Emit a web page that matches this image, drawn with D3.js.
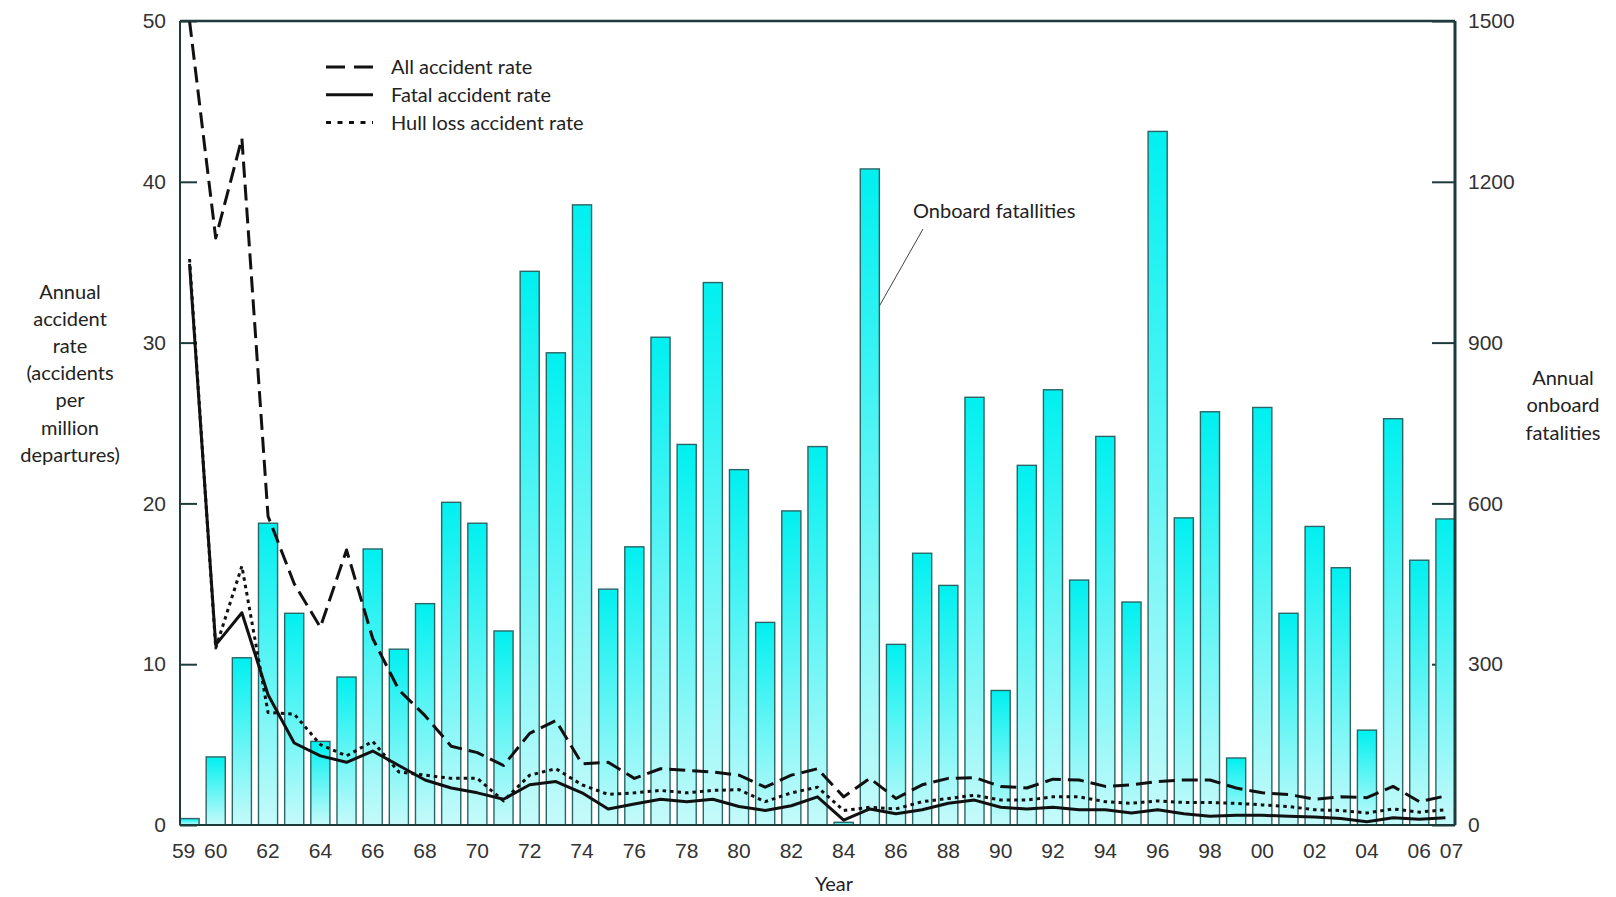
<!DOCTYPE html>
<html>
<head>
<meta charset="utf-8">
<script src="https://cdn.jsdelivr.net/npm/d3@7"></script>
<style>
  body { margin: 0; background: #fff; }
  .tick text { font-family: "Liberation Sans", Arial, sans-serif; font-size: 21px; fill: #333; }
  .lbl { font-family: Lato, "Open Sans", sans-serif; font-size: 20px; fill: #222; }
</style>
</head>
<body>
<div id="chart-area"></div>
<script>

// Data
var years = d3.range(1959, 2008);

var fatalities = [12, 127, 312, 563, 395, 156, 276, 515, 328, 413, 602, 563, 362, 1033, 881, 1157,
    440, 519, 910, 710, 1012, 663, 378, 586, 706, 5, 1224, 337, 507, 447, 798, 251, 671, 812,
    457, 725, 416, 1294, 573, 771, 125, 779, 395, 557, 480, 177, 758, 494, 571];

var allRate = [50, 36.5, 42.7, 19.2, 15.0, 12.3, 17.1, 11.6, 8.4, 6.8, 4.9, 4.5, 3.7, 5.7, 6.5, 3.8,
    3.9, 2.9, 3.5, 3.4, 3.3, 3.1, 2.35, 3.1, 3.5, 1.75, 2.9, 1.65, 2.5, 2.9, 2.95, 2.4, 2.3, 2.85,
    2.8, 2.4, 2.5, 2.7, 2.8, 2.8, 2.3, 2.0, 1.9, 1.6, 1.75, 1.7, 2.4, 1.45, 1.8];

var fatalRate = [34.9, 11.2, 13.2, 8.1, 5.1, 4.3, 3.9, 4.6, 3.7, 2.8, 2.3, 2.0, 1.6, 2.5, 2.7, 2.0,
    1.0, 1.3, 1.6, 1.45, 1.6, 1.15, 0.9, 1.2, 1.75, 0.3, 1.0, 0.7, 0.95, 1.35, 1.55, 1.1, 1.0, 1.1,
    0.95, 0.95, 0.75, 0.95, 0.7, 0.55, 0.6, 0.6, 0.55, 0.5, 0.4, 0.2, 0.45, 0.35, 0.45];

var hullRate = [35.2, 11.0, 16.1, 7.0, 6.9, 5.0, 4.3, 5.2, 3.3, 3.1, 2.9, 2.9, 1.5, 3.1, 3.5, 2.5,
    1.9, 2.0, 2.15, 2.0, 2.15, 2.2, 1.45, 2.0, 2.35, 0.9, 1.1, 1.0, 1.45, 1.65, 1.85, 1.55, 1.55, 1.75,
    1.75, 1.45, 1.35, 1.5, 1.4, 1.4, 1.35, 1.25, 1.15, 0.95, 0.9, 0.75, 1.0, 0.8, 0.95];

var yearTicks = [1959, 1960, 1962, 1964, 1966, 1968, 1970, 1972, 1974, 1976, 1978, 1980, 1982,
    1984, 1986, 1988, 1990, 1992, 1994, 1996, 1998, 2000, 2002, 2004, 2006, 2007];
var rateTicks = [0, 10, 20, 30, 40, 50];
var fatalTicks = [0, 300, 600, 900, 1200, 1500];

var series = [
    {name: "All accident rate", values: allRate, dash: "16,7", legendDash: "19,9"},
    {name: "Fatal accident rate", values: fatalRate, dash: null, legendDash: null},
    {name: "Hull loss accident rate", values: hullRate, dash: "3.5,4", legendDash: "5,6.5"}
];

// SVG drawing area
var margin = {top: 21, right: 161, bottom: 72, left: 180};
var width = 1616 - margin.left - margin.right,
    height = 897 - margin.top - margin.bottom;

var svg = d3.select("#chart-area").append("svg")
    .attr("width", 1616)
    .attr("height", 897);

var g = svg.append("g")
    .attr("transform", `translate(${margin.left}, ${margin.top})`);

// gradient for the bars
var grad = svg.append("defs").append("linearGradient")
    .attr("id", "barGrad")
    .attr("x1", 0).attr("y1", 0).attr("x2", 0).attr("y2", 1);
grad.append("stop").attr("offset", "0%").attr("stop-color", "#00f0f0");
grad.append("stop").attr("offset", "100%").attr("stop-color", "#c6fafa");

// Scales
var x = d3.scaleBand()
    .domain(years)
    .range([0, width])
    .paddingInner(0.27)
    .paddingOuter(0);

var y = d3.scaleLinear().domain([0, 50]).range([height, 0]);
var y2 = d3.scaleLinear().domain([0, 1500]).range([height, 0]);

// axes (ticks drawn inside the frame, under the bars)
var yAxis = d3.axisLeft(y).tickValues(rateTicks).tickSize(-17).tickPadding(14);
var y2Axis = d3.axisRight(y2).tickValues(fatalTicks).tickSize(-23).tickPadding(13)
    .tickFormat(d3.format("d"));
var xAxis = d3.axisBottom(x).tickValues(yearTicks).tickSize(0).tickPadding(18)
    .tickFormat(d => String(d).slice(2));

g.append("g").attr("class", "y-axis").call(yAxis);
g.append("g").attr("class", "y2-axis")
    .attr("transform", `translate(${width},0)`)
    .call(y2Axis);
g.append("g").attr("class", "x-axis")
    .attr("transform", `translate(0,${height})`)
    .call(xAxis);

g.selectAll(".domain").remove();
g.selectAll(".y-axis .tick line, .y2-axis .tick line")
    .attr("stroke", "#1d3b3b").attr("stroke-width", 2);
g.selectAll(".x-axis .tick text")
    .attr("dx", d => d === 1959 ? -6 : (d === 2007 ? 6 : 0));

// bars
g.selectAll(".bar")
    .data(years)
    .join("rect")
    .attr("class", "bar")
    .attr("x", d => x(d))
    .attr("y", (d, i) => y2(fatalities[i]))
    .attr("width", x.bandwidth())
    .attr("height", (d, i) => height - y2(fatalities[i]))
    .attr("fill", "url(#barGrad)")
    .attr("stroke", "#2b6565")
    .attr("stroke-width", 1.4);

// lines
var line = d3.line()
    .x((d, i) => x(years[i]) + x.bandwidth() / 2)
    .y(d => y(d));

g.selectAll(".rate-line")
    .data(series)
    .join("path")
    .attr("class", "rate-line")
    .attr("d", d => line(d.values))
    .attr("fill", "none")
    .attr("stroke", "#111")
    .attr("stroke-width", 3)
    .attr("stroke-linejoin", "round")
    .attr("stroke-dasharray", d => d.dash);

// frame
var frame = g.append("g").attr("stroke", "#1d3b3b").attr("fill", "none");
frame.append("line").attr("x1", 0).attr("x2", width).attr("y1", 0).attr("y2", 0).attr("stroke-width", 2.5);
frame.append("line").attr("x1", 0).attr("x2", 0).attr("y1", 0).attr("y2", height).attr("stroke-width", 2);
frame.append("line").attr("x1", 0).attr("x2", width).attr("y1", height).attr("y2", height).attr("stroke-width", 2);
frame.append("line").attr("x1", width).attr("x2", width).attr("y1", 0).attr("y2", height).attr("stroke-width", 3);

// legend
var legend = g.selectAll(".legend")
    .data(series)
    .join("g")
    .attr("class", "legend")
    .attr("transform", (d, i) => `translate(146, ${46 + i * 27.8})`);

legend.append("line")
    .attr("x1", 0).attr("x2", 47)
    .attr("stroke", "#111")
    .attr("stroke-width", 3)
    .attr("stroke-dasharray", d => d.legendDash);

legend.append("text")
    .attr("class", "lbl")
    .attr("x", 65)
    .attr("dy", "0.35em")
    .text(d => d.name);

// annotation for the bars
var bar85 = x(1985) + x.bandwidth();
g.append("line")
    .attr("x1", 743).attr("y1", 208)
    .attr("x2", bar85).attr("y2", 285)
    .attr("stroke", "#444").attr("stroke-width", 1);
g.append("text").attr("class", "lbl")
    .attr("x", 733).attr("y", 190).attr("dy", "0.35em")
    .text("Onboard fatallities");

// axis titles
var leftTitle = ["Annual", "accident", "rate", "(accidents", "per", "million", "departures)"];
svg.append("g").selectAll("text")
    .data(leftTitle)
    .join("text")
    .attr("class", "lbl")
    .attr("text-anchor", "middle")
    .attr("x", 70)
    .attr("y", (d, i) => 292 + i * 27.1)
    .attr("dy", "0.35em")
    .text(d => d);

var rightTitle = ["Annual", "onboard", "fatalities"];
svg.append("g").selectAll("text")
    .data(rightTitle)
    .join("text")
    .attr("class", "lbl")
    .attr("text-anchor", "middle")
    .attr("x", 1563)
    .attr("y", (d, i) => 378 + i * 27.4)
    .attr("dy", "0.35em")
    .text(d => d);

svg.append("text").attr("class", "lbl")
    .attr("text-anchor", "middle")
    .attr("x", 834).attr("y", 884).attr("dy", "0.35em")
    .text("Year");

</script>
</body>
</html>
